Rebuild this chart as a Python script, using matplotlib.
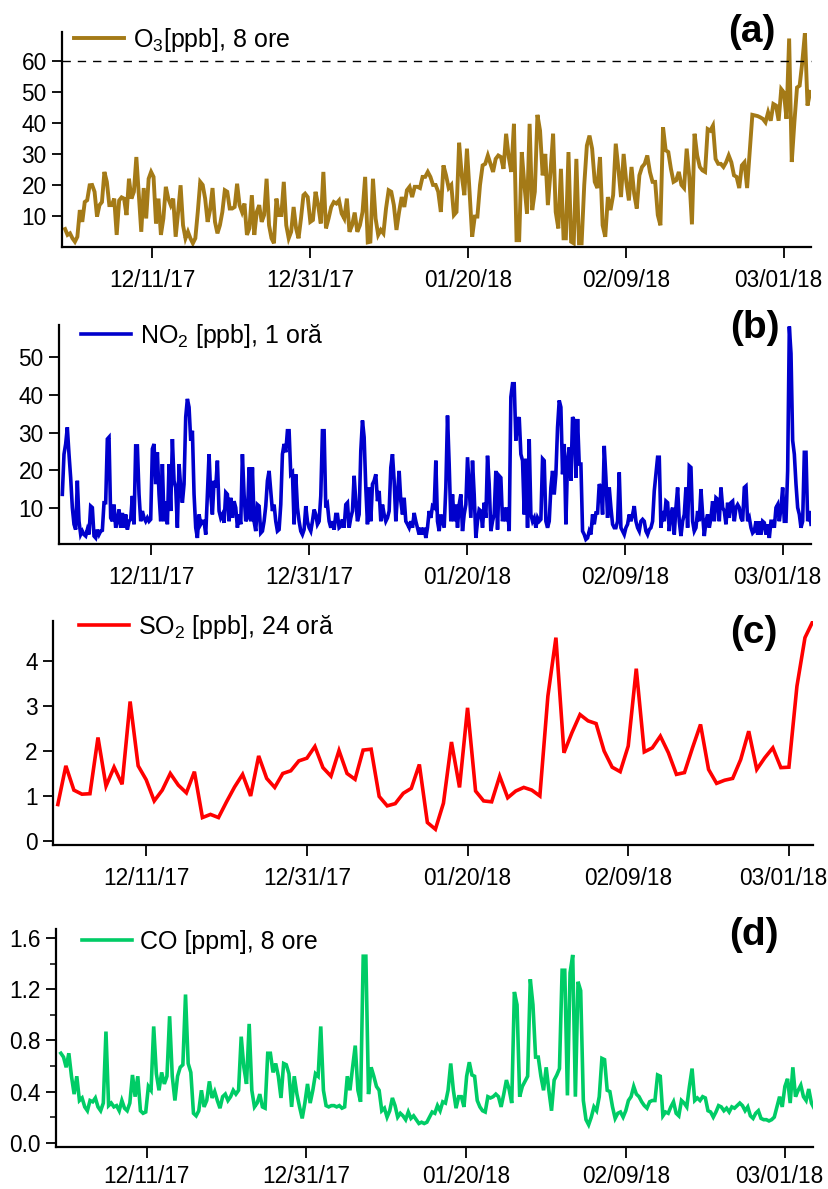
import matplotlib
matplotlib.use('Agg')
import matplotlib.pyplot as plt
from matplotlib.ticker import FixedLocator, MultipleLocator, FormatStrFormatter
from matplotlib.transforms import ScaledTranslation
import pandas as pd

plt.rcParams['font.family'] = ['Liberation Sans', 'DejaVu Sans']
plt.rcParams['mathtext.fontset'] = 'custom'
plt.rcParams['mathtext.rm'] = 'Liberation Sans'
plt.rcParams['mathtext.it'] = 'Liberation Sans:italic'

# ---- data ----
tick_dates = ['2017-12-11', '2017-12-31', '2018-01-20', '2018-02-09', '2018-03-01']
tick_labels = ['12/11/17', '12/31/17', '01/20/18', '02/09/18', '03/01/18']

# O3, 8 h, in three stretches
o3_part1 = [5.8, 3.9, 4.4, 2.8, 1.7, 3.3, 11.9, 8.1, 14.5, 15.1,
            19.9, 20.0, 17.8, 9.8, 13.5, 14.5, 24.2, 21.0, 13.5, 13.5,
            15.6, 3.9, 15.0, 16.0, 15.6, 10.3, 22.0, 15.6, 17.8, 29.0,
            16.7, 4.9, 19.0, 9.2, 22.0, 24.2, 22.6, 7.6, 15.6, 3.9,
            9.2, 19.4, 15.6, 13.5, 15.6, 3.3, 11.3, 19.9, 7.0, 2.8,
            4.9, 2.8, 1.2, 2.8, 11.3, 21.0, 20.0, 15.6, 8.1, 11.9,
            19.0, 8.1, 4.4, 7.0, 11.3, 18.3, 17.8, 12.4, 12.4, 12.9,
            20.4, 13.5, 11.3, 14.0, 3.9, 6.0, 16.7, 3.9, 11.3, 13.5,
            8.1, 10.3, 22.0, 7.0, 2.8, 1.2, 15.6, 10.3, 10.3, 21.0,
            7.0, 2.8, 4.9, 12.9, 6.0, 2.8, 9.2, 16.7]
o3_part2 = [17.2, 16.1, 8.1, 8.7, 17.8, 13.5, 7.6, 24.2, 6.0, 9.2,
            12.9, 14.5, 14.0, 15.0, 10.8, 9.2, 15.6, 4.9, 7.0, 11.1,
            4.9, 7.0, 11.3, 22.6, 1.5, 1.7, 22.0, 9.2, 3.9, 5.5,
            4.4, 12.4, 18.3, 17.8, 13.5, 5.5, 11.3, 16.1, 12.9, 18.3,
            19.4, 16.1, 19.4, 19.4, 19.0, 22.6, 22.6, 24.2, 22.6, 20.0,
            20.0, 17.8, 11.3, 26.3, 23.1, 19.0, 20.0, 10.3, 11.3, 33.6,
            23.1, 16.7, 31.7, 17.8, 3.3, 9.8, 9.8, 20.0, 26.3, 26.8,
            29.5, 26.8, 24.2, 28.4, 29.5, 29.0, 25.2, 36.5, 29.0, 24.2,
            39.7, 2.2, 2.2, 30.6, 20.0, 10.8, 39.7, 11.9, 17.8, 42.6,
            37.5, 23.1, 30.0, 13.5, 24.2, 36.5, 11.3, 6.0, 25.2, 2.8]
o3_part3 = [2.8, 30.6, 1.7, 1.2, 28.4, 1.2, 1.2, 20.0, 32.7, 35.9,
            31.7, 21.0, 19.0, 29.0, 7.0, 3.3, 16.1, 11.9, 16.7, 33.3,
            25.2, 16.1, 30.0, 21.0, 15.0, 25.8, 17.2, 12.4, 23.1, 25.8,
            26.8, 29.5, 24.2, 21.0, 21.0, 10.3, 7.0, 38.6, 31.2, 30.6,
            25.2, 21.0, 21.5, 24.2, 20.0, 19.0, 31.7, 22.6, 7.3, 36.5,
            29.5, 25.8, 24.7, 24.2, 38.0, 37.5, 39.1, 28.4, 26.8, 26.8,
            25.8, 27.3, 29.5, 27.3, 23.1, 22.6, 19.0, 26.3, 27.3, 19.0,
            30.6, 42.6, 42.4, 42.2, 41.8, 41.3, 40.2, 43.4, 40.7, 46.1,
            45.6, 40.7, 50.9, 49.8, 41.3, 67.2, 27.4, 40.2, 51.4, 52.0,
            59.5, 68.9, 45.6, 50.0]
o3_spans = [('2017-11-30 00:00', '2017-12-30 04:00'),
            ('2017-12-30 09:00', '2018-02-01 02:00'),
            ('2018-02-01 09:00', '2018-03-04 07:00')]
o3_limit = 60

# NO2, 1 h (sampled about every 5 h)
no2 = [13.7, 24.3, 27.0, 31.4, 24.3, 18.1, 10.2, 5.8, 4.4, 17.3,
       6.6, 3.1, 4.0, 3.1, 2.7, 4.4, 3.1, 10.6, 10.2, 2.7,
       2.2, 4.4, 3.1, 4.0, 4.2, 11.5, 11.5, 28.3, 28.8, 7.5,
       6.6, 11.0, 4.9, 6.6, 9.7, 4.9, 8.8, 4.9, 8.4, 4.4,
       6.6, 7.1, 13.3, 5.8, 26.5, 26.5, 13.7, 6.6, 9.3, 7.5,
       6.6, 7.5, 6.6, 7.1, 25.7, 27.0, 16.4, 24.8, 13.7, 6.6,
       21.7, 6.6, 11.9, 5.8, 21.7, 9.3, 28.3, 17.3, 15.5, 4.9,
       21.7, 15.5, 11.5, 16.4, 34.1, 38.9, 36.7, 27.9, 30.5, 13.7,
       4.9, 2.2, 8.4, 5.8, 6.6, 6.6, 3.1, 13.7, 24.3, 13.7,
       8.4, 17.3, 15.5, 22.6, 9.3, 7.5, 8.4, 6.2, 14.2, 13.7,
       6.6, 12.8, 7.5, 11.9, 10.2, 4.9, 8.4, 5.8, 24.3, 13.7,
       6.6, 7.5, 20.8,
       6.6, 20.8, 6.6, 4.0, 11.0, 10.6, 3.5, 4.0, 6.6, 10.6,
       17.3, 19.9, 14.6, 9.3, 11.0, 6.6, 4.0, 4.4, 11.0, 24.3,
       27.0, 24.8, 30.5, 30.5, 19.0, 19.5, 5.8, 19.0, 10.2, 6.6,
       4.0, 3.1, 4.4, 10.6, 6.6, 4.9, 4.0, 6.6, 9.7, 8.4,
       5.8, 6.6, 13.3, 30.5, 30.5, 10.2, 11.0, 6.6, 4.9, 6.6,
       4.4, 8.4, 8.4, 4.9, 5.3, 7.1, 4.9, 11.0, 11.5, 4.9,
       7.5, 9.3, 18.6, 11.9, 6.6, 8.4, 25.2, 33.2, 28.8, 15.5,
       5.8, 15.5, 6.6, 16.4, 17.3, 19.0, 11.9, 14.6, 6.6, 11.0,
       8.4, 6.6, 7.5, 9.3, 20.8, 24.3, 17.3, 6.6, 13.7, 19.9,
       11.9, 8.4, 12.8, 6.6, 5.8, 4.9, 6.6, 4.9, 8.8, 6.6,
       4.9, 3.1, 4.9, 3.1, 4.9, 2.2, 4.9, 9.3, 7.5, 10.6,
       10.2, 22.6, 6.6, 4.0,
       8.4, 6.6, 4.9, 15.5, 34.5, 21.7, 6.6, 13.7, 6.6, 11.0,
       4.9, 11.0, 13.7, 4.0, 8.4, 11.0, 23.5, 15.5, 7.5, 22.6,
       13.7, 2.2, 6.6, 9.7, 9.3, 4.9, 11.5, 7.5, 23.9, 16.4,
       4.0, 6.6, 8.4, 19.9, 4.4, 18.6, 18.1, 6.6, 10.2, 6.6,
       10.2, 4.0, 39.4, 42.9, 42.9, 27.9, 32.7, 34.1, 24.3, 22.6,
       8.4, 23.1, 4.9, 28.3, 8.4, 6.6, 7.5, 4.9, 7.5, 6.6,
       7.1, 23.1, 22.6, 6.6, 4.9, 6.6, 15.5, 19.9, 13.7, 19.0,
       31.4, 38.5, 36.7, 19.0, 27.0, 5.8, 22.6, 26.1, 17.3, 34.1,
       33.2, 18.1, 33.6, 21.7, 21.7, 4.0, 3.1, 1.8, 2.2, 4.0,
       3.1, 8.4, 5.8, 8.8, 8.8, 16.4, 15.5, 8.4, 26.5, 18.1,
       7.5, 15.5, 10.2, 5.8, 4.9, 4.9, 6.6, 19.5, 4.9, 4.0,
       3.1, 4.9, 5.8, 8.4,
       6.6, 8.4, 10.6, 6.6, 4.9, 4.0, 6.6, 7.1, 6.6, 4.0,
       3.1, 4.4, 4.9, 6.6, 14.6, 19.0, 23.5, 23.5, 4.9, 9.3,
       6.6, 11.9, 11.5, 4.0, 8.4, 10.2, 3.1, 10.2, 15.5, 6.6,
       2.7, 6.6, 8.4, 15.5, 4.9, 21.2, 20.8, 6.6, 4.0, 4.9,
       9.3, 6.6, 15.1, 8.4, 2.7, 6.6, 8.4, 4.9, 7.5, 11.9,
       6.6, 12.8, 12.4, 6.6, 15.5, 10.2, 9.3, 5.8, 11.5, 7.5,
       11.5, 11.9, 6.6, 10.2, 11.0, 10.2, 7.5, 6.6, 15.5, 15.9,
       6.6, 7.5, 4.9, 3.5, 4.0, 6.6, 3.1, 6.6, 3.1, 6.6,
       6.2, 3.1, 5.8, 2.2, 6.6, 6.6, 4.9, 10.2, 11.0, 6.6,
       10.2, 15.5, 6.6, 6.6, 19.9, 58.0, 50.9, 27.9, 24.3, 16.4,
       10.2, 8.4, 4.9, 6.6, 24.8, 24.8, 6.6, 9.3, 5.8]
no2_span = ('2017-11-29 18:30', '2018-03-04 12:00')

# SO2, 24 h (one value per day from 30 Nov)
so2 = [0.81, 1.67, 1.13, 1.04, 1.05, 2.30, 1.22, 1.64, 1.26, 3.10,
       1.67, 1.36, 0.89, 1.13, 1.50, 1.24, 1.07, 1.54, 0.52, 0.59,
       0.52, 0.87, 1.20, 1.48, 1.00, 1.89, 1.39, 1.19, 1.50, 1.56,
       1.78, 1.84, 2.10, 1.63, 1.44, 2.01, 1.50, 1.37, 2.02, 2.04,
       0.99, 0.78, 0.83, 1.06, 1.17, 1.70, 0.41, 0.26, 0.84, 2.20,
       1.19, 2.96, 1.11, 0.89, 0.87, 1.44, 0.96, 1.11, 1.19, 1.13,
       1.00, 3.22, 4.52, 1.96, 2.41, 2.81, 2.67, 2.61, 2.00, 1.64,
       1.54, 2.11, 3.83, 1.98, 2.07, 2.33, 1.96, 1.48, 1.52, 2.07,
       2.59, 1.59, 1.28, 1.35, 1.39, 1.81, 2.44, 1.59, 1.85, 2.07,
       1.63, 1.64, 3.44, 4.52, 4.89]
so2_start = '2017-11-30'

# CO, 8 h
co = [0.70, 0.67, 0.59, 0.70, 0.52, 0.38, 0.52, 0.33, 0.35, 0.28,
      0.25, 0.33, 0.32, 0.35, 0.28, 0.25, 0.31, 0.87, 0.29, 0.31,
      0.28, 0.29, 0.25, 0.33, 0.27, 0.25, 0.31, 0.53, 0.36, 0.52,
      0.25, 0.23, 0.24, 0.44, 0.41, 0.91, 0.54, 0.41, 0.55, 0.46,
      0.52, 0.99, 0.52, 0.33, 0.52, 0.59, 0.61, 1.16, 0.62, 0.55,
      0.23, 0.21, 0.25, 0.41, 0.28, 0.33, 0.48, 0.35, 0.40, 0.33,
      0.27, 0.36, 0.38, 0.33, 0.36, 0.41, 0.38, 0.41, 0.83, 0.59,
      0.46, 0.93, 0.41, 0.28, 0.31, 0.38, 0.28, 0.27, 0.70, 0.70,
      0.55, 0.62, 0.52, 0.35, 0.62, 0.61, 0.54, 0.28, 0.52, 0.38,
      0.28, 0.19, 0.31, 0.46, 0.31, 0.41, 0.54, 0.52, 0.91, 0.41,
      0.29, 0.28, 0.29, 0.29, 0.28, 0.29, 0.27, 0.28, 0.52, 0.41,
      0.59, 0.76, 0.41, 0.32, 1.46, 1.46, 0.38, 0.59, 0.52, 0.44,
      0.41, 0.25, 0.27, 0.20, 0.25, 0.35, 0.29, 0.20, 0.23, 0.21,
      0.18, 0.24, 0.19, 0.21, 0.18, 0.15, 0.16, 0.15, 0.16, 0.20,
      0.24, 0.23, 0.29, 0.25, 0.32, 0.31, 0.41, 0.62, 0.41, 0.27,
      0.36, 0.36, 0.28, 0.52, 0.63, 0.53, 0.52, 0.33, 0.28, 0.25,
      0.24, 0.36, 0.35, 0.36, 0.38, 0.36, 0.28, 0.38, 0.49, 0.42,
      0.31, 1.18, 1.08, 0.36, 0.44, 0.48, 0.52, 1.28, 1.08, 0.67,
      0.67, 0.52, 0.41, 0.59, 0.41, 0.25, 0.49, 0.53, 0.58, 1.35,
      1.35, 0.37, 1.33, 1.47, 0.36, 1.26, 1.19, 0.33, 0.18, 0.14,
      0.20, 0.28, 0.25, 0.36, 0.66, 0.65, 0.41, 0.40, 0.28, 0.19,
      0.23, 0.24, 0.20, 0.25, 0.33, 0.36, 0.44, 0.38, 0.36, 0.32,
      0.29, 0.27, 0.32, 0.33, 0.33, 0.53, 0.52, 0.21, 0.24, 0.23,
      0.28, 0.32, 0.23, 0.21, 0.33, 0.31, 0.28, 0.44, 0.58, 0.33,
      0.35, 0.33, 0.36, 0.35, 0.25, 0.24, 0.20, 0.24, 0.29, 0.28,
      0.25, 0.27, 0.24, 0.28, 0.27, 0.29, 0.31, 0.29, 0.25, 0.28,
      0.21, 0.19, 0.23, 0.25, 0.19, 0.18, 0.18, 0.17, 0.18, 0.20,
      0.28, 0.36, 0.28, 0.44, 0.50, 0.31, 0.59, 0.36, 0.41, 0.45,
      0.36, 0.33, 0.42, 0.31, 0.27]
co_span = ('2017-11-30 06:00', '2018-03-04 14:00')

labels = ['O$_3$[ppb], 8 ore', 'NO$_2$ [ppb], 1 or\u0103',
          'SO$_2$ [ppb], 24 or\u0103', 'CO [ppm], 8 ore']
letters = ['(a)', '(b)', '(c)', '(d)']
colors = ['#A47A17', '#0000CC', '#FF0000', '#00CC66']

# ---- build time axes ----
o3_t, o3_v = [], []
for (t0, t1), part in zip(o3_spans, [o3_part1, o3_part2, o3_part3]):
    o3_t.extend(pd.date_range(t0, t1, periods=len(part)))
    o3_v.extend(part)
no2_t = pd.date_range(no2_span[0], no2_span[1], periods=len(no2))
so2_t = pd.date_range(so2_start, periods=len(so2), freq='D')
co_t = pd.date_range(co_span[0], co_span[1], periods=len(co))

series = [(o3_t, o3_v), (no2_t, no2), (so2_t, so2), (co_t, co)]

W, H = 829, 1189
fig = plt.figure(figsize=(W / 100, H / 100), dpi=100)

# pixel boxes: left, right, top, bottom
boxes = [(62, 811, 32, 247), (59, 811, 325, 544),
         (53, 813, 621, 845), (56, 813, 929, 1147)]
xdays = [(-11.39, 83.4), (-11.65, 83.5), (-11.6, 83.0), (-11.36, 83.45)]
ylims = [(0, 69.3), (0.6, 58.4), (-0.09, 4.89), (-0.034, 1.673)]
yticks = [[10, 20, 30, 40, 50, 60], [10, 20, 30, 40, 50],
          [0, 1, 2, 3, 4], [0.0, 0.4, 0.8, 1.2, 1.6]]
widths = [2.8, 2.6, 2.6, 2.6]
xpads = [8, 8, 8, 5]
leg_pos = [(0.016, 0.963), (0.029, 0.95), (0.034, 0.973), (0.034, 0.94)]
letter_pos = [(752, 32), (755, 328), (754, 633), (754, 935)]

ref = pd.Timestamp('2017-12-11')
tick_ts = [pd.Timestamp(d) for d in tick_dates]

for i in range(4):
    l, r, t, b = boxes[i]
    ax = fig.add_axes([l / W, 1 - b / H, (r - l) / W, (b - t) / H])
    tt, vv = series[i]
    line, = ax.plot(tt, vv, color=colors[i], lw=widths[i], label=labels[i],
                    solid_joinstyle='miter')
    if i == 0:
        ax.axhline(o3_limit, color='black', lw=1.0, dashes=(6, 5), zorder=3,
                   clip_on=False)
    ax.set_xlim(ref + pd.Timedelta(days=xdays[i][0]),
                ref + pd.Timedelta(days=xdays[i][1]))
    ax.set_ylim(*ylims[i])
    ax.set_xticks(tick_ts)
    ax.set_xticklabels(tick_labels)
    ax.yaxis.set_major_locator(FixedLocator(yticks[i]))
    if i == 3:
        ax.yaxis.set_major_formatter(FormatStrFormatter('%.1f'))
        ax.yaxis.set_minor_locator(MultipleLocator(0.2))
    for s in ['top', 'right']:
        ax.spines[s].set_visible(False)
    for s in ['left', 'bottom']:
        ax.spines[s].set_linewidth(1.6)
    ax.tick_params(axis='x', direction='out', length=8, width=1.3,
                   labelsize=16.3, pad=xpads[i])
    ax.tick_params(axis='y', direction='out', length=7, width=1.3,
                   labelsize=16.3, pad=4)
    ax.tick_params(axis='y', which='minor', direction='out', length=4,
                   width=1.1)
    # keep the last date label inside the figure
    last = ax.get_xticklabels()[-1]
    last.set_transform(last.get_transform()
                       + ScaledTranslation(-6 / 100, 0, fig.dpi_scale_trans))
    ax.legend(handles=[line], loc='center left', bbox_to_anchor=leg_pos[i],
              frameon=False, fontsize=18, handlelength=2.0,
              handletextpad=0.35, borderpad=0, borderaxespad=0)
    lx, ly = letter_pos[i]
    fig.text(lx / W, 1 - ly / H, letters[i], fontsize=28, fontweight='bold',
             ha='center', va='center')

fig.savefig('out.png', dpi=100)
